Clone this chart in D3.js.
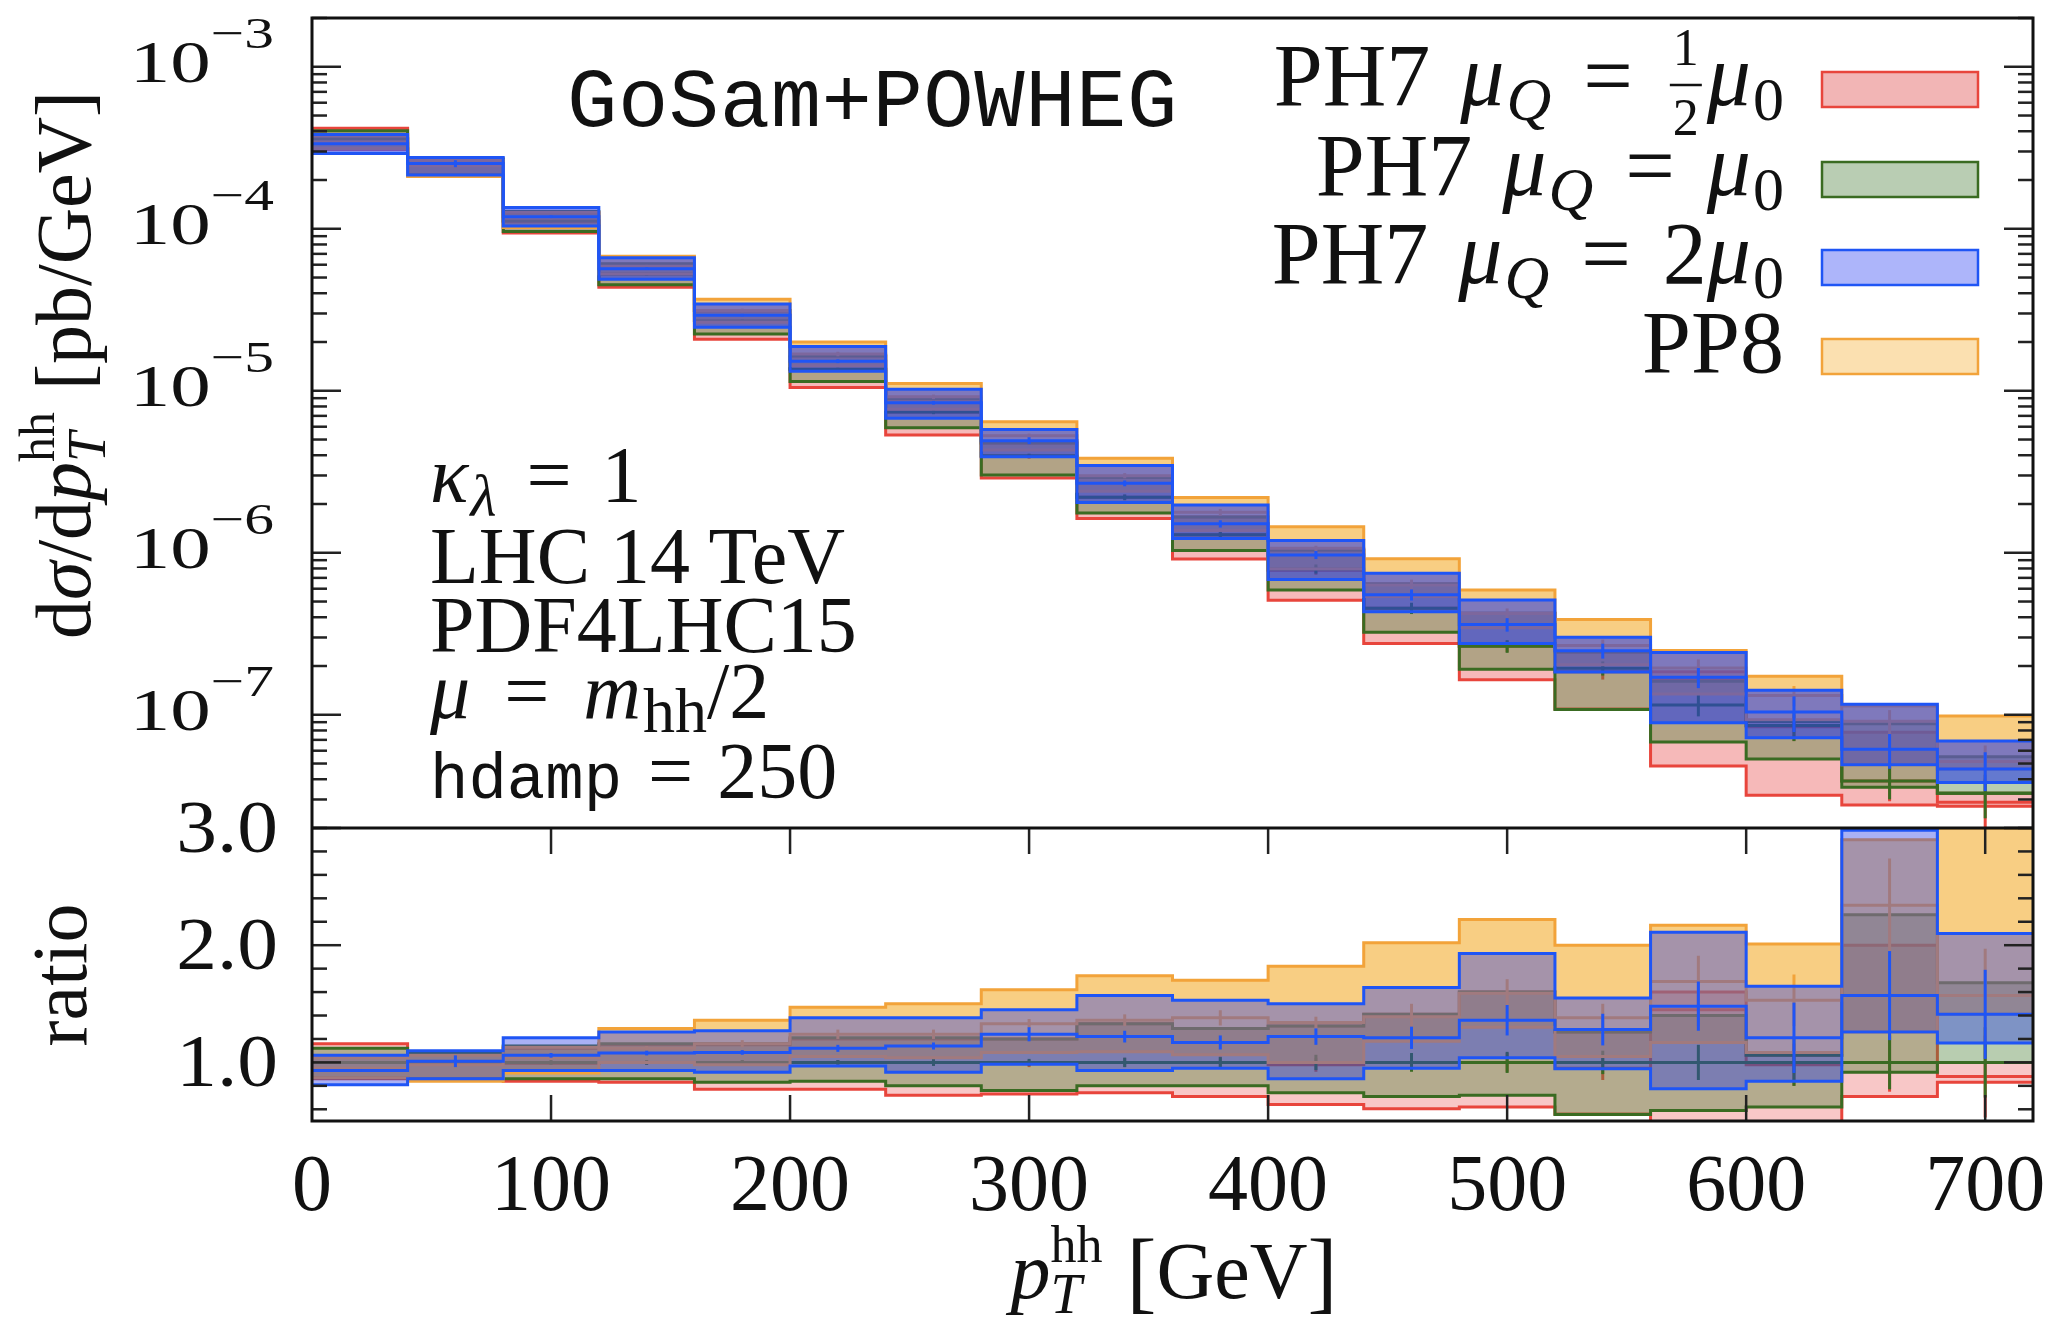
<!DOCTYPE html>
<html>
<head>
<meta charset="utf-8">
<script src="https://cdn.jsdelivr.net/npm/d3@7"></script>
<style>
  body { margin: 0; background: #fff; }
  svg { display: block; }
</style>
</head>
<body>
<div id="wrapper"></div>
<script>
// bins of p_T^hh in GeV
const binEdges = [0, 40, 80, 120, 160, 200, 240, 280, 320, 360, 400, 440, 480, 520, 560, 600, 640, 680, 720];

// reference: PH7 muQ = mu0 central value, pb/GeV
const refXsec = [3.6e-4, 2.5e-4, 1.12e-4, 5.25e-5, 2.7e-5, 1.36e-5, 7.4e-6, 3.97e-6, 2.2e-6,
                 1.29e-6, 7.95e-7, 4.55e-7, 2.65e-7, 1.94e-7, 1.15e-7, 8.6e-8, 3.9e-8, 3.28e-8];

// everything below is ratio to refXsec
const redLo  = [0.86, 0.86, 0.84, 0.83, 0.77, 0.77, 0.72, 0.73, 0.74, 0.71, 0.64, 0.605, 0.62, 0.56, 0.42, 0.37, 0.71, 0.83];
const redHi  = [1.16, 1.08, 1.12, 1.15, 1.15, 1.20, 1.20, 1.20, 1.33, 1.29, 1.31, 1.41, 1.60, 1.26, 1.60, 1.06, 2.00, 1.00];
const redMid = [1.00, 0.99, 0.99, 1.00, 1.00, 1.00, 1.00, 0.99, 1.00, 1.00, 0.98, 1.00, 1.00, 0.95, 1.45, 0.98, 1.00, 0.88];
const redErr = [0.01, 0.01, 0.01, 0.02, 0.02, 0.02, 0.03, 0.03, 0.04, 0.05, 0.06, 0.07, 0.08, 0.10, 0.14, 0.18, 0.25, 0.35];

const greenLo  = [0.87, 0.86, 0.86, 0.86, 0.83, 0.84, 0.80, 0.76, 0.80, 0.80, 0.74, 0.71, 0.72, 0.555, 0.59, 0.62, 0.915, 1.00];
const greenHi  = [1.12, 1.08, 1.14, 1.16, 1.16, 1.21, 1.21, 1.20, 1.33, 1.29, 1.31, 1.41, 1.60, 1.26, 1.40, 1.06, 2.26, 1.68];
const greenMid = [1, 1, 1, 1, 1, 1, 1, 1, 1, 1, 1, 1, 1, 1, 1, 1, 1, 1];
const greenErr = [0.01, 0.01, 0.02, 0.02, 0.02, 0.02, 0.03, 0.03, 0.04, 0.045, 0.065, 0.08, 0.09, 0.10, 0.15, 0.20, 0.23, 0.30];

const blueLo  = [0.81, 0.86, 0.93, 0.93, 0.915, 0.97, 0.915, 0.985, 0.93, 0.95, 0.86, 0.95, 1.04, 0.946, 0.776, 0.84, 1.26, 1.165];
const blueHi  = [1.06, 1.10, 1.21, 1.26, 1.27, 1.38, 1.38, 1.45, 1.57, 1.53, 1.50, 1.64, 1.93, 1.55, 2.11, 1.65, 2.98, 2.10];
const blueMid = [0.93, 1.01, 1.06, 1.08, 1.085, 1.12, 1.14, 1.24, 1.22, 1.17, 1.22, 1.21, 1.36, 1.28, 1.48, 1.21, 1.57, 1.41];
const blueErr = [0.01, 0.05, 0.02, 0.02, 0.02, 0.03, 0.03, 0.06, 0.05, 0.06, 0.07, 0.095, 0.13, 0.135, 0.21, 0.30, 0.38, 0.38];

const orangeLo  = [0.87, 0.84, 0.91, 1.00, 0.98, 1.05, 1.04, 1.085, 1.09, 1.065, 1.00, 1.18, 1.30, 1.05, 1.17, 1.085, 1.26, 1.41];
const orangeHi  = [1.04, 1.06, 1.13, 1.29, 1.36, 1.47, 1.50, 1.62, 1.74, 1.70, 1.82, 2.02, 2.22, 2.00, 2.17, 2.01, 2.90, 3.00];
const orangeMid = [0.95, 0.98, 1.04, 1.12, 1.16, 1.24, 1.24, 1.33, 1.36, 1.38, 1.34, 1.39, 1.59, 1.38, 1.69, 1.53, 2.34, 1.57];
const orangeErr = [0.01, 0.02, 0.02, 0.02, 0.03, 0.04, 0.04, 0.04, 0.05, 0.065, 0.05, 0.11, 0.12, 0.12, 0.22, 0.22, 0.40, 0.40];

const xTicks = [100, 200, 300, 400, 500, 600, 700];
const xTickLabels = ["0", "100", "200", "300", "400", "500", "600", "700"];
const decadeTicks = [1e-3, 1e-4, 1e-5, 1e-6, 1e-7];
const decadeExps = ["−3", "−4", "−5", "−6", "−7"];
const ratioMajor = [1.0, 2.0, 3.0];
const ratioLabels = ["1.0", "2.0", "3.0"];
const ratioMinor = [0.6, 0.8, 1.2, 1.4, 1.6, 1.8, 2.2, 2.4, 2.6, 2.8];

const SERIF = "'Liberation Serif', 'DejaVu Serif', serif";
const MONO = "'Liberation Mono', 'DejaVu Sans Mono', monospace";

const series = {
  red:    { lo: redLo, hi: redHi, mid: redMid, err: redErr, fill: "rgb(232,70,70)", stroke: "#e8453c", swatch: "#f2b5b5", aRatio: 0.3, aTop: 0.38 },
  green:  { lo: greenLo, hi: greenHi, mid: greenMid, err: greenErr, fill: "rgb(77,130,57)", stroke: "#3a6b22", swatch: "#b9cdb3", aRatio: 0.4, aTop: 0.4 },
  blue:   { lo: blueLo, hi: blueHi, mid: blueMid, err: blueErr, fill: "rgb(40,60,230)", stroke: "#1f55f5", swatch: "#adb5fa", aRatio: 0.4, aTop: 0.58 },
  orange: { lo: orangeLo, hi: orangeHi, mid: orangeMid, err: orangeErr, fill: "rgb(242,165,30)", stroke: "#f2a33a", swatch: "#fbe0b0", aRatio: 0.55, aTop: 0.55 }
};
const drawOrder = ["red", "green", "orange", "blue"];

var dimension = {
  width: 2045,
  height: 1329,
  left: 312,
  right: 2033,
  top: 18,
  split: 828,
  bottom: 1121
};

const svg = d3.select("#wrapper").append("svg")
  .attr("width", dimension.width)
  .attr("height", dimension.height);

const xScaler = d3.scaleLinear().domain([0, 720]).range([dimension.left, dimension.right]);
const yTop = d3.scaleLog().domain([2e-8, 2e-3]).range([dimension.split, dimension.top]);
const yRatio = d3.scaleLinear().domain([0.5, 3]).range([dimension.bottom, dimension.split]);

const defs = svg.append("defs");
defs.append("clipPath").attr("id", "clipTop").append("rect")
  .attr("x", dimension.left).attr("y", dimension.top)
  .attr("width", dimension.right - dimension.left).attr("height", dimension.split - dimension.top);
defs.append("clipPath").attr("id", "clipRatio").append("rect")
  .attr("x", dimension.left).attr("y", dimension.split)
  .attr("width", dimension.right - dimension.left).attr("height", dimension.bottom - dimension.split);

// ---- bands ----
function drawBands(g, yS, scaleBy, alphaKey) {
  drawOrder.forEach(key => {
    const s = series[key];
    const k = i => (scaleBy ? scaleBy[i] : 1);
    const pts = [];
    s.lo.forEach((l, i) => {
      const row = { lo: l * k(i), hi: s.hi[i] * k(i), mid: s.mid[i] * k(i) };
      pts.push(Object.assign({ x: binEdges[i] }, row));
      pts.push(Object.assign({ x: binEdges[i + 1] }, row));
    });
    const area = d3.area().x(d => xScaler(d.x)).y0(d => yS(d.lo)).y1(d => yS(d.hi));
    g.append("path").attr("d", area(pts))
      .attr("fill", s.fill).attr("fill-opacity", s[alphaKey]);
    ["lo", "hi", "mid"].forEach(f => {
      const line = d3.line().x(d => xScaler(d.x)).y(d => yS(d[f]));
      g.append("path").attr("d", line(pts))
        .attr("fill", "none").attr("stroke", s.stroke).attr("stroke-width", 3);
    });
    g.selectAll(null).data(s.mid).enter().append("line")
      .attr("x1", (d, i) => xScaler((binEdges[i] + binEdges[i + 1]) / 2))
      .attr("x2", (d, i) => xScaler((binEdges[i] + binEdges[i + 1]) / 2))
      .attr("y1", (d, i) => yS((d - s.err[i]) * k(i)))
      .attr("y2", (d, i) => yS((d + s.err[i]) * k(i)))
      .attr("stroke", s.stroke).attr("stroke-width", 3);
  });
}

const topG = svg.append("g").attr("clip-path", "url(#clipTop)");
drawBands(topG, yTop, refXsec, "aTop");
const ratioG = svg.append("g").attr("clip-path", "url(#clipRatio)");
drawBands(ratioG, yRatio, null, "aRatio");

// ---- ticks ----
const ticksG = svg.append("g").attr("stroke", "#222").attr("stroke-width", 2.5);
function yTick(y, len) {
  ticksG.append("line").attr("x1", dimension.left).attr("x2", dimension.left + len).attr("y1", y).attr("y2", y);
  ticksG.append("line").attr("x1", dimension.right - len).attr("x2", dimension.right).attr("y1", y).attr("y2", y);
}
decadeTicks.forEach(v => yTick(yTop(v), 29));
[1e-8, 1e-7, 1e-6, 1e-5, 1e-4, 1e-3].forEach(dec => {
  [2, 3, 4, 5, 6, 7, 8, 9].forEach(m => {
    const v = m * dec;
    if (v >= 2e-8 && v <= 2e-3) yTick(yTop(v), 15);
  });
});
ratioMajor.forEach(v => yTick(yRatio(v), 29));
ratioMinor.forEach(v => yTick(yRatio(v), 15));
xTicks.forEach(v => {
  ticksG.append("line").attr("x1", xScaler(v)).attr("x2", xScaler(v))
    .attr("y1", dimension.split).attr("y2", dimension.split + 26);
  ticksG.append("line").attr("x1", xScaler(v)).attr("x2", xScaler(v))
    .attr("y1", dimension.bottom - 26).attr("y2", dimension.bottom);
});

// frame
const frame = svg.append("g").attr("stroke", "#111").attr("stroke-width", 3).attr("fill", "none");
frame.append("rect").attr("x", dimension.left).attr("y", dimension.top)
  .attr("width", dimension.right - dimension.left).attr("height", dimension.bottom - dimension.top);
frame.append("line").attr("x1", dimension.left).attr("x2", dimension.right)
  .attr("y1", dimension.split).attr("y2", dimension.split);

// ---- text helper: one <text>, pieces laid out left to right as tspans ----
function rich(parent, pieces) {
  const g = parent.append("g");
  const txt = g.append("text").attr("fill", "#111").style("font-family", SERIF);
  let x = 0;
  const put = (p, at) => {
    const ts = txt.append("tspan").attr("x", at).attr("y", p.dy || 0)
      .style("font-family", p.mono ? MONO : SERIF)
      .style("font-size", p.f + "px")
      .style("font-style", p.it ? "italic" : "normal")
      .text(p.t);
    return { ts: ts, w: ts.node().getComputedTextLength() };
  };
  pieces.forEach(p => {
    if (p.gap !== undefined) { x += p.gap; return; }
    if (p.frac) {
      x += p.pad;
      const a = put({ t: p.frac[0], f: p.f, dy: p.up }, x);
      const b = put({ t: p.frac[1], f: p.f, dy: p.down }, x);
      const w = Math.max(a.w, b.w);
      a.ts.attr("x", x + (w - a.w) / 2);
      b.ts.attr("x", x + (w - b.w) / 2);
      g.append("line").attr("x1", x - 3).attr("x2", x + w + 3)
        .attr("y1", p.bar).attr("y2", p.bar).attr("stroke", "#111").attr("stroke-width", 2.5);
      x += w + p.pad;
      return;
    }
    if (p.stack) {
      const w = Math.max(put(p.stack[0], x).w, put(p.stack[1], x).w);
      x += w;
      return;
    }
    x += put(p, x).w;
  });
  return { g: g, w: x };
}

// tick labels
decadeTicks.forEach((v, i) => {
  const r = rich(svg, [{ t: "10", f: 60 }, { t: decadeExps[i], f: 44, dy: -34 }]);
  const sx = 1.35;
  r.g.attr("transform", `translate(${274 - r.w * sx},${yTop(v) + 15}) scale(${sx},1)`);
});
ratioMajor.forEach((v, i) => {
  const r = rich(svg, [{ t: ratioLabels[i], f: 74 }]);
  const sx = 1.1;
  r.g.attr("transform", `translate(${278 - r.w * sx},${yRatio(v) + 24}) scale(${sx},1)`);
});
[0].concat(xTicks).forEach((v, i) => {
  const r = rich(svg, [{ t: xTickLabels[i], f: 80 }]);
  r.g.attr("transform", `translate(${xScaler(v) - r.w / 2},1210)`);
});

// axis titles
const xt = rich(svg, [
  { t: "p", f: 80, it: true },
  { stack: [{ t: "T", f: 56, it: true, dy: 15 }, { t: "hh", f: 52, dy: -36 }] },
  { gap: 24 },
  { t: "[", f: 90, dy: 4 }, { t: "GeV", f: 80 }, { t: "]", f: 90, dy: 4 }
]);
xt.g.attr("transform", `translate(${1174 - xt.w / 2},1298)`);

const yt = rich(svg, [
  { t: "d", f: 78 }, { t: "σ", f: 78, it: true }, { t: "/d", f: 78 }, { t: "p", f: 78, it: true },
  { stack: [{ t: "T", f: 54, it: true, dy: 15 }, { t: "hh", f: 50, dy: -36 }] },
  { gap: 22 },
  { t: "[pb/GeV]", f: 78 }
]);
yt.g.attr("transform", `translate(90,365) rotate(-90) translate(${-yt.w / 2},0)`);

const rt = rich(svg, [{ t: "ratio", f: 78 }]);
rt.g.attr("transform", `translate(86,975) rotate(-90) translate(${-rt.w / 2},0)`);

// title
svg.append("text")
  .attr("x", 567).attr("y", 126)
  .style("font-family", MONO).style("font-size", "84px")
  .style("letter-spacing", "0.5px")
  .attr("fill", "#111")
  .text("GoSam+POWHEG");

// annotations
const F = 80;
const notes = [
  { y: 502, p: [{ t: "κ", f: F, it: true }, { gap: 2 }, { t: "λ", f: 60, it: true, dy: 14 }, { gap: 30 }, { t: "=", f: F }, { gap: 30 }, { t: "1", f: F }] },
  { y: 583, p: [{ t: "LHC 14 TeV", f: F }] },
  { y: 652, p: [{ t: "PDF4LHC15", f: F }] },
  { y: 718, p: [{ t: "μ", f: F, it: true }, { gap: 34 }, { t: "=", f: F }, { gap: 34 }, { t: "m", f: F, it: true }, { gap: 2 }, { t: "hh", f: 64, dy: 14 }, { t: "/2", f: F }] },
  { y: 798, p: [{ t: "hdamp", f: 64, mono: true }, { gap: 26 }, { t: "=", f: F }, { gap: 24 }, { t: "250", f: F }] }
];
notes.forEach(n => {
  const r = rich(svg, n.p);
  r.g.attr("transform", `translate(430,${n.y})`);
});

// legend
const LF = 88;
const sub = t => ({ t: t, f: 62, it: true, dy: 15 });
const zero = { t: "0", f: 62, dy: 15 };
const head = [{ t: "PH7", f: LF }, { gap: 30 }, { t: "μ", f: LF, it: true }, { gap: 2 }, sub("Q"), { gap: 32 }, { t: "=", f: LF }, { gap: 32 }];
const legendRows = [
  { key: "red", y: 105, p: head.concat([{ frac: ["1", "2"], f: 52, up: -40, down: 30, bar: -20, pad: 8 }, { t: "μ", f: LF, it: true }, { gap: 2 }, zero]) },
  { key: "green", y: 195, p: head.concat([{ t: "μ", f: LF, it: true }, { gap: 2 }, zero]) },
  { key: "blue", y: 283, p: head.concat([{ t: "2", f: LF }, { t: "μ", f: LF, it: true }, { gap: 2 }, zero]) },
  { key: "orange", y: 372, p: [{ t: "PP8", f: LF }] }
];
legendRows.forEach(row => {
  const r = rich(svg, row.p);
  r.g.attr("transform", `translate(${1784 - r.w},${row.y})`);
  const s = series[row.key];
  svg.append("rect")
    .attr("x", 1822).attr("y", row.y - 33)
    .attr("width", 156).attr("height", 35)
    .attr("fill", s.swatch).attr("stroke", s.stroke).attr("stroke-width", 2.5);
});
</script>
</body>
</html>
